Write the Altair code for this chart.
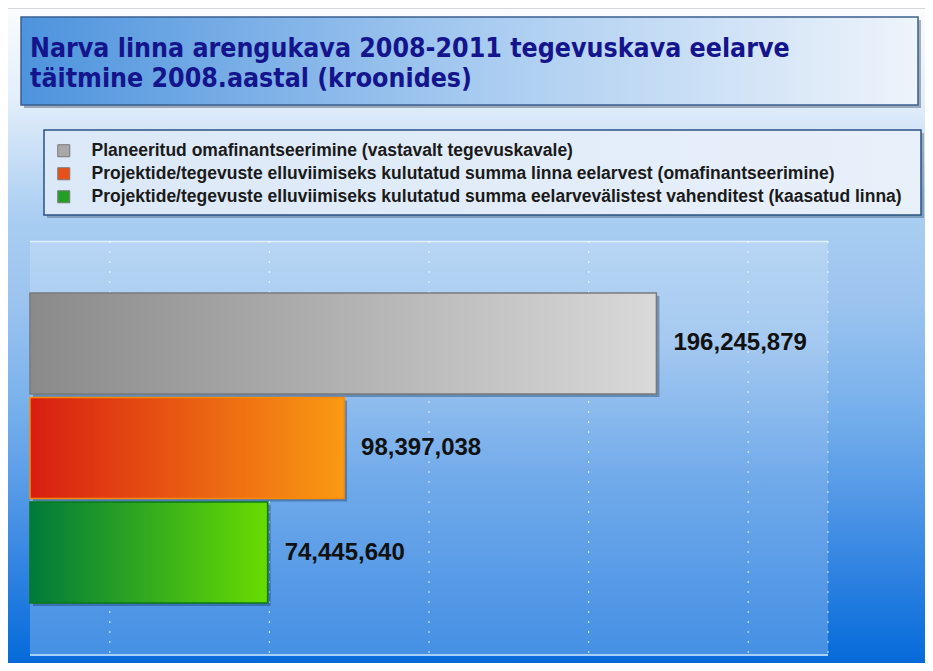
import altair as alt
import pandas as pd

# ---- data ----
series = [
    "Planeeritud omafinantseerimine (vastavalt tegevuskavale)",
    "Projektide/tegevuste elluviimiseks kulutatud summa linna eelarvest (omafinantseerimine)",
    "Projektide/tegevuste elluviimiseks kulutatud summa eelarvevälistest vahenditest (kaasatud linna)",
]
values = [196245879, 98397038, 74445640]
grid_values = [25e6, 75e6, 125e6, 175e6, 225e6, 250e6]
x_domain = [0, 250e6]
title_text = "Narva linna arengukava 2008-2011 tegevuskava eelarve\ntäitmine 2008.aastal (kroonides)"

legend_colors = ["#a8a8a8", "#e8501a", "#22a022"]
grad_stops = [
    ["#8a8a8a", "#d9d9d9"],
    ["#d81e12", "#fa9a12"],
    ["#007a3c", "#68dc00"],
]
bar_strokes = ["#7a7a7a", "#ff8a00", "#0b7a14"]

df = pd.DataFrame({"series": series, "value": values, "idx": [0, 1, 2]})
grid_df = pd.DataFrame({"g": grid_values})

W, H = 798, 414

def lin(stops, horizontal=True, offsets=None):
    n = len(stops)
    if offsets is None:
        offsets = [i / (n - 1) for i in range(n)]
    return {
        "gradient": "linear",
        "stops": [{"offset": o, "color": c} for o, c in zip(offsets, stops)],
        "x1": 0, "y1": 0,
        "x2": 1 if horizontal else 0,
        "y2": 0 if horizontal else 1,
    }

one = alt.Data(values=[{}])

def box(x, x2, y, y2, **kw):
    return alt.Chart(one).mark_rect(**kw).encode(
        x=alt.value(x), x2=alt.value(x2), y=alt.value(y), y2=alt.value(y2)
    )

xs = alt.Scale(domain=x_domain, range=[0, W])
ys = alt.Scale(domain=series, range=[52, 362], paddingInner=0.035, paddingOuter=0)

# background
bg = box(-22, 895, -232, 422, fill=lin(
    ["#fafcfe", "#e3eefa", "#aacef2", "#9cc4ef", "#7ab2ec", "#5a9de8", "#3586e2", "#0a6edb", "#0669d8"],
    horizontal=False,
    offsets=[0, 0.139, 0.315, 0.445, 0.598, 0.72, 0.842, 0.98, 1.0]))
topline = alt.Chart(one).mark_rule(color="#c5c9cf", strokeWidth=1.5).encode(
    x=alt.value(-22), x2=alt.value(895), y=alt.value(-233))

# title box
title_shadow = box(-6, 891, -221, -133, fill="#1a2a40", opacity=0.35)
title_box = box(-9, 888, -224, -136, fill=lin(["#4d93dd", "#a6caf0", "#eef4fb"]),
                stroke="#3b5f8e", strokeWidth=1.5)
title = alt.Chart(one).mark_text(
    text=title_text, lineBreak="\n", lineHeight=30, align="left", baseline="alphabetic",
    font="DejaVu Sans Condensed, sans-serif",
    fontWeight="bold", fontSize=26.5, color="#14148c",
).encode(x=alt.value(0), y=alt.value(-184))

# legend box
legend_shadow = box(17, 894, -108, -23, fill="#1a2a40", opacity=0.3)
legend_box = box(14, 891, -111, -26, fill=lin(["#dbe8f7", "#e8f0fa"]),
                 stroke="#2b5283", strokeWidth=1.5)

# plot area
plot_bg = box(0, W, 0, H, fill=lin(
    ["#b8d6f4", "#a5c9f0", "#70aaea", "#5297e6", "#4590e4"], horizontal=False,
    offsets=[0, 0.24, 0.58, 0.87, 1.0]))
plot_top = alt.Chart(one).mark_rule(color="#e4f0fc", strokeWidth=1.5).encode(
    x=alt.value(0), x2=alt.value(W), y=alt.value(0.5))
plot_bottom = alt.Chart(one).mark_rule(color="#a6d0f8", strokeWidth=2).encode(
    x=alt.value(0), x2=alt.value(W), y=alt.value(H))

grid = alt.Chart(grid_df).mark_rule(color="white", opacity=0.7, strokeDash=[2, 8],
                                    strokeWidth=1.2).encode(
    x=alt.X("g:Q", scale=xs, axis=None), y=alt.value(0), y2=alt.value(H))

# bars
base_bars = alt.Chart(df).mark_bar(opacity=1).encode(
    x=alt.X("value:Q", scale=xs, axis=None),
    y=alt.Y("series:N", scale=ys, axis=None, sort=series),
    color=alt.Color("series:N", scale=alt.Scale(domain=series, range=legend_colors),
                    legend=alt.Legend(
                        title=None, orient="none", legendX=25, legendY=-99,
                        symbolType="square", symbolSize=144, symbolStrokeWidth=1,
                        symbolStrokeColor="#777", symbolOpacity=1,
                        labelFont="Liberation Sans, Arial, sans-serif", labelFontWeight="bold",
                        labelFontSize=17.5, labelColor="#1a1a1a", labelLimit=0,
                        rowPadding=4, labelOffset=19, padding=0)),
)
shadow = alt.Chart(df).mark_bar(xOffset=3, yOffset=3, color="#0b2a55", opacity=0.35).encode(
    x=alt.X("value:Q", scale=xs, axis=None),
    y=alt.Y("series:N", scale=ys, axis=None, sort=series),
)
grad_layers = []
for i in range(3):
    grad_layers.append(
        alt.Chart(df).transform_filter(alt.datum.idx == i).mark_bar(
            fill=lin(grad_stops[i]), stroke=bar_strokes[i], strokeWidth=1.5
        ).encode(
            x=alt.X("value:Q", scale=xs, axis=None),
            y=alt.Y("series:N", scale=ys, axis=None, sort=series),
        )
    )

labels = alt.Chart(df).mark_text(
    align="left", baseline="middle", dx=17, fontSize=24, fontWeight="bold",
    font="Liberation Sans, Arial, sans-serif", color="#111111",
).encode(
    x=alt.X("value:Q", scale=xs, axis=None),
    y=alt.Y("series:N", scale=ys, axis=None, sort=series),
    text=alt.Text("value:Q", format=","),
)

chart = alt.layer(
    bg, topline, title_shadow, title_box, title, legend_shadow, legend_box,
    plot_bg, plot_top, plot_bottom, grid, shadow, base_bars, *grad_layers, labels
).properties(
    width=W, height=H,
    autosize=alt.AutoSizeParams(type="none"),
    padding={"left": 22, "top": 233, "right": 97, "bottom": 8},
).configure_view(stroke=None)

chart.save("out.html", embed_options={"renderer": "svg", "actions": False})
